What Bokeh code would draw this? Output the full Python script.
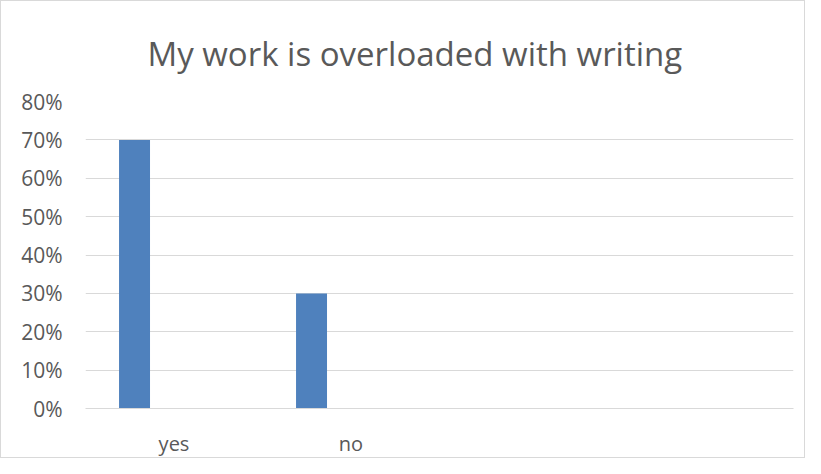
from bokeh.plotting import figure
from bokeh.models import FactorRange, Range1d, FixedTicker, NumeralTickFormatter, ColumnDataSource
from bokeh.transform import dodge
from bokeh.embed import file_html
from bokeh.resources import INLINE

# Data
categories = ["yes", "no", " ", "  "]
bar_categories = ["yes", "no"]
values = [0.70, 0.30]
y_ticks = [0.0, 0.1, 0.2, 0.3, 0.4, 0.5, 0.6, 0.7, 0.8]
title_text = "My work is overloaded with writing"

TEXT = "#595959"
GRID = "#d9d9d9"
BAR = "#4f81bd"
FONT = "Open Sans"

source = ColumnDataSource(dict(cat=bar_categories, val=values))

p = figure(
    width=805, height=458,
    x_range=FactorRange(factors=categories, range_padding=0),
    y_range=Range1d(0, 0.8),
    output_backend="svg", toolbar_location=None,
    min_border_left=84, min_border_right=13, min_border_top=100, min_border_bottom=46,
    styles={"border": "1px solid #d9d9d9", "box-sizing": "border-box"},
)

p.title.text = title_text
p.title.align = "left"
p.title.offset = 62
p.title.vertical_align = "middle"
p.title.text_font = FONT
p.title.text_font_size = "33px"
p.title.text_font_style = "normal"
p.title.text_color = TEXT
p.title.standoff = 50

p.vbar(x=dodge("cat", -0.223, range=p.x_range), top="val", width=0.175,
       bottom=0, source=source, fill_color=BAR, line_color=None)

p.outline_line_color = None
p.xgrid.grid_line_color = None
p.ygrid.grid_line_color = GRID
p.ygrid.grid_line_width = 1
p.ygrid.ticker = FixedTicker(ticks=y_ticks)

p.yaxis.ticker = FixedTicker(ticks=y_ticks)
p.yaxis.formatter = NumeralTickFormatter(format="0%")
p.yaxis.axis_line_color = None
p.yaxis.major_tick_line_color = None
p.yaxis.minor_tick_line_color = None
p.yaxis.major_label_standoff = 17
p.yaxis.major_label_text_font = FONT
p.yaxis.major_label_text_font_size = "21px"
p.yaxis.major_label_text_color = TEXT

p.xaxis.axis_line_color = GRID
p.xaxis.axis_line_width = 1
p.xaxis.major_tick_line_color = None
p.xaxis.minor_tick_line_color = None
p.xaxis.major_label_standoff = 15
p.xaxis.major_label_text_font = FONT
p.xaxis.major_label_text_font_size = "20px"
p.xaxis.major_label_text_color = TEXT

open("out.html", "w").write(file_html(p, INLINE))
